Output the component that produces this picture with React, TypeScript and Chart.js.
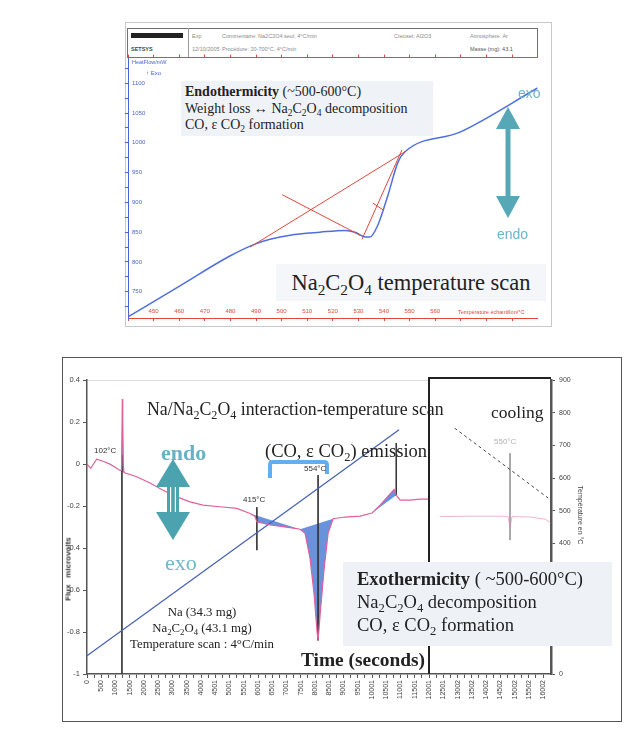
import React, { useEffect, useRef } from "react";
import { Chart, registerables } from "chart.js";

Chart.register(...registerables);

// ================= TOP CHART : Na2C2O4 temperature scan =================
const scanTempC = [440, 460.3, 479.8, 489.6, 495.5, 503.3, 515, 524.8, 528.7, 532.6, 534.5, 537.7, 541.6, 545.5, 548.2, 569.7, 600];
const scanHeatFlow = [708, 760, 810, 830, 838, 845, 850, 853, 850, 842, 842, 863, 913, 968, 985, 1018, 1092];
const tangentBaseT = [487.7, 548.2];
const tangentBaseV = [825, 985];
const tangentDropT = [500.2, 530.6];
const tangentDropV = [913, 845];
const tangentRiseT = [531.4, 547];
const tangentRiseV = [838, 988];
const tangentMarkT = [535.6, 539.8];
const tangentMarkV = [899, 887];
const scanXTicks = [440, 450, 460, 470, 480, 490, 500, 510, 520, 530, 540, 550, 560, 570, 580, 590];
const scanXLabelled = [450, 460, 470, 480, 490, 500, 510, 520, 530, 540, 550, 560];
const scanYTicks = [725, 750, 775, 800, 825, 850, 875, 900, 925, 950, 975, 1000, 1025, 1050, 1075, 1100, 1125];
const scanYLabelled = [750, 800, 850, 900, 950, 1000, 1050, 1100];

// ================= BOTTOM CHART : Na/Na2C2O4 interaction =================
const timeTickValues = [0, 500, 1000, 1500, 2000, 2500, 3000, 3500, 4000, 4501, 5001, 5501, 6001, 6501, 7001, 7501, 8001, 8501, 9001, 9501, 10001, 10501, 11001, 11501, 12001, 12501, 13002, 13502, 14002, 14502, 15002, 15502, 16002];
const fluxTimeS = [0, 130, 340, 562, 807, 1042, 1158, 1211, 1240, 1255, 1275, 1299, 1744, 2211, 2668, 3148, 3615, 4072, 4668, 5255, 5721, 5897, 5957, 6423, 6880, 7476, 7652, 7827, 7968, 8073, 8108, 8178, 8319, 8459, 8635, 9056, 9582, 10004, 10284, 10565, 10776, 10846, 10986, 11337, 11688, 11969];
const fluxMicrovolts = [0, -0.02, 0.024, 0.014, 0, -0.02, -0.03, -0.03, 0.31, 0.2, -0.005, -0.04, -0.06, -0.09, -0.124, -0.156, -0.18, -0.195, -0.203, -0.211, -0.235, -0.25, -0.275, -0.29, -0.298, -0.31, -0.33, -0.45, -0.62, -0.8, -0.84, -0.72, -0.5, -0.33, -0.26, -0.252, -0.248, -0.233, -0.195, -0.152, -0.12, -0.148, -0.171, -0.171, -0.167, -0.167];
const tempTimeS = [0, 10950];
const tempC = [56, 748];
const coolTimeS = [12387, 13440, 14492, 14773, 14843, 14913, 15545, 16071, 16270];
const coolFlux = [-0.25, -0.248, -0.248, -0.25, -0.3, -0.25, -0.252, -0.262, -0.28];
const coolTempTimeS = [12900, 16180];
const coolTempC = [753, 539];
const peakFillFrom = [1150, 5721, 7476, 10004];
const peakFillTo = [1300, 7476, 8635, 10846];
const markerTimeS = [1225, 5960, 8108, 10850];
const markerTop = [0.043, -0.205, -0.052, 0.1];
const markerBottom = [-1, -0.41, -0.84, -0.15];
const coolMarkerTimeS = [14843];
const coolMarkerTop = [0.052];
const coolMarkerBottom = [-0.362];

const SERIF = "'Liberation Serif', 'DejaVu Serif', serif";
const SANS = "'Liberation Sans', Arial, sans-serif";

const pts = (xs: number[], ys: number[]) => xs.map((x, i) => ({ x, y: ys[i] }));

const SUB: React.CSSProperties = { fontSize: "0.68em", verticalAlign: "-0.32em", lineHeight: 0 };
const Oxalate = () => (
  <>
    Na<sub style={SUB}>2</sub>C<sub style={SUB}>2</sub>O<sub style={SUB}>4</sub>
  </>
);
const CO2 = () => (
  <>
    CO<sub style={SUB}>2</sub>
  </>
);

// position helper: page coordinates -> container coordinates (body margin 8)
const at = (x: number, y: number, extra: React.CSSProperties = {}): React.CSSProperties => ({
  position: "absolute",
  left: x - 8,
  top: y - 8,
  whiteSpace: "nowrap",
  ...extra,
});

function TopChart() {
  const ref = useRef<HTMLCanvasElement>(null);
  useEffect(() => {
    const blue = "#4a66d4";
    const red = "#e2473b";
    const redLine = (xs: number[], ys: number[]) => ({
      data: pts(xs, ys),
      borderColor: red,
      borderWidth: 1,
      pointRadius: 0,
      fill: false,
    });
    const chart = new Chart(ref.current as HTMLCanvasElement, {
      type: "line",
      data: {
        datasets: [
          { data: pts(scanTempC, scanHeatFlow), borderColor: "#4f6fdc", borderWidth: 1.5, pointRadius: 0, fill: false, order: 1, cubicInterpolationMode: "monotone" },
          redLine(tangentBaseT, tangentBaseV),
          redLine(tangentDropT, tangentDropV),
          redLine(tangentRiseT, tangentRiseV),
          redLine(tangentMarkT, tangentMarkV),
        ] as any,
      },
      options: {
        animation: false,
        responsive: false,
        events: [],
        plugins: { legend: { display: false }, tooltip: { enabled: false } },
        layout: { padding: { left: 0, right: 12.4, top: 0, bottom: 0 } },
        scales: {
          x: {
            type: "linear",
            position: "bottom",
            min: 440,
            max: 600,
            afterBuildTicks: (s: any) => { s.ticks = scanXTicks.map((v) => ({ value: v })); },
            afterFit: (s: any) => { s.height = 12; },
            ticks: {
              mirror: true,
              padding: 3,
              autoSkip: false,
              maxRotation: 0,
              color: red,
              font: { size: 6, family: SANS },
              callback: (v: any) => (scanXLabelled.includes(Number(v)) ? String(v) : ""),
            },
            grid: { drawOnChartArea: false, color: red, tickLength: 3 },
            border: { color: red, width: 1 },
          },
          xTop: {
            type: "linear",
            position: "top",
            min: 440,
            max: 600,
            afterBuildTicks: (s: any) => { s.ticks = scanXTicks.map((v) => ({ value: v })); },
            afterFit: (s: any) => { s.height = 7; },
            ticks: { display: false },
            grid: { drawOnChartArea: false, color: red, tickLength: 3 },
            border: { color: red, width: 1 },
          },
          y: {
            type: "linear",
            position: "left",
            min: 706,
            max: 1143,
            afterBuildTicks: (s: any) => { s.ticks = scanYTicks.map((v) => ({ value: v })); },
            afterFit: (s: any) => { s.width = 18; },
            ticks: {
              mirror: true,
              padding: 4,
              autoSkip: false,
              color: blue,
              font: { size: 6, family: SANS },
              callback: (v: any) => (scanYLabelled.includes(Number(v)) ? String(v) : ""),
            },
            grid: { drawOnChartArea: false, color: blue, tickLength: 3 },
            border: { color: blue, width: 1 },
          },
        },
      } as any,
    });
    return () => chart.destroy();
  }, []);
  return <canvas ref={ref} width={440} height={280} style={at(110, 50, { width: 440, height: 280 })} />;
}

function BottomChart() {
  const ref = useRef<HTMLCanvasElement>(null);
  useEffect(() => {
    const flux = pts(fluxTimeS, fluxMicrovolts);
    const fills = peakFillFrom.map((a, i) => ({
      data: flux.filter((p) => p.x >= a && p.x <= peakFillTo[i]),
      borderWidth: 0,
      borderColor: "rgba(0,0,0,0)",
      backgroundColor: "rgba(72,122,212,0.82)",
      pointRadius: 0,
      fill: "shape",
      yAxisID: "y",
      order: 9,
    }));
    const markerSets = markerTimeS.map((t, i) => ({
      data: [{ x: t, y: markerTop[i] }, { x: t, y: markerBottom[i] }],
      borderColor: "#333",
      borderWidth: 0.9,
      pointRadius: 0,
      fill: false,
      yAxisID: "y",
      order: 4,
    }));
    const coolMarkers = coolMarkerTimeS.map((t, i) => ({
      data: [{ x: t, y: coolMarkerTop[i] }, { x: t, y: coolMarkerBottom[i] }],
      borderColor: "#9a9a9a",
      borderWidth: 0.9,
      pointRadius: 0,
      fill: false,
      yAxisID: "y",
      order: 4,
    }));
    const tickList: number[] = [];
    timeTickValues.forEach((v, i) => {
      tickList.push(v);
      if (i < timeTickValues.length - 1) tickList.push((v + timeTickValues[i + 1]) / 2);
    });
    const chart = new Chart(ref.current as HTMLCanvasElement, {
      type: "line",
      data: {
        datasets: [
          ...fills,
          { data: flux, borderColor: "#e0609c", borderWidth: 1.2, pointRadius: 0, fill: false, yAxisID: "y", order: 2 },
          { data: pts(tempTimeS, tempC), borderColor: "#4862b4", borderWidth: 1.3, pointRadius: 0, fill: false, yAxisID: "y2", order: 3 },
          { data: pts(coolTimeS, coolFlux), borderColor: "rgba(226,120,165,0.55)", borderWidth: 1, pointRadius: 0, fill: false, yAxisID: "y", order: 3 },
          { data: pts(coolTempTimeS, coolTempC), borderColor: "#444", borderDash: [3, 3], borderWidth: 1, pointRadius: 0, fill: false, yAxisID: "y2", order: 3 },
          ...markerSets,
          ...coolMarkers,
        ] as any,
      },
      options: {
        animation: false,
        responsive: false,
        events: [],
        plugins: { legend: { display: false }, tooltip: { enabled: false } },
        layout: { padding: { left: 0, right: 24, top: 8, bottom: 0 } },
        scales: {
          x: {
            type: "linear",
            position: "bottom",
            min: 0,
            max: 16280,
            afterBuildTicks: (s: any) => { s.ticks = tickList.map((v) => ({ value: v })); },
            afterFit: (s: any) => { s.height = 31; },
            ticks: {
              autoSkip: false,
              minRotation: 90,
              maxRotation: 90,
              padding: 2,
              color: "#444",
              font: { size: 7, family: SANS },
              callback: (v: any) => (timeTickValues.includes(Number(v)) ? String(v) : ""),
            },
            grid: { drawOnChartArea: false, color: "#555", tickLength: 4 },
            border: { color: "#555", width: 1.5 },
          },
          y: {
            type: "linear",
            position: "left",
            min: -1,
            max: 0.4,
            afterFit: (s: any) => { s.width = 32; },
            ticks: {
              stepSize: 0.2,
              padding: 3,
              color: "#444",
              font: { size: 7.5, family: SANS },
              callback: (v: any) => String(Number(Number(v).toFixed(1)) || 0),
            },
            grid: { drawOnChartArea: false, color: "#555", tickLength: 4 },
            border: { color: "#555", width: 1.5 },
          },
          y2: {
            type: "linear",
            position: "right",
            min: 0,
            max: 900,
            afterFit: (s: any) => { s.width = 40; },
            ticks: {
              stepSize: 100,
              padding: 4,
              color: "#444",
              font: { size: 7, family: SANS },
              callback: (v: any) => (Number(v) >= 100 && Number(v) <= 300 ? "" : String(v)),
            },
            grid: { drawOnChartArea: false, color: "#555", tickLength: 4 },
            border: { color: "#555", width: 2.5 },
          },
        },
      } as any,
    });
    return () => chart.destroy();
  }, []);
  return <canvas ref={ref} width={560} height={333} style={at(55, 372, { width: 560, height: 333 })} />;
}

function DoubleArrow({ x, top, bottom, head, headH, shaft, color, stripes }: any) {
  const w = head + 4;
  const h = bottom - top;
  const c = w / 2;
  return (
    <svg width={w} height={h} style={at(x - c, top)}>
      <polygon points={`${c},0 ${c + head / 2},${headH} ${c - head / 2},${headH}`} fill={color} />
      <rect x={c - shaft / 2} y={headH - 1} width={shaft} height={h - 2 * headH + 2} fill={color} />
      <polygon points={`${c},${h} ${c + head / 2},${h - headH} ${c - head / 2},${h - headH}`} fill={color} />
      {stripes
        ? [-shaft / 5, shaft / 5].map((dx, i) => (
            <line key={i} x1={c + dx} x2={c + dx} y1={headH} y2={h - headH} stroke="#ffffff" strokeWidth={1.2} />
          ))
        : null}
    </svg>
  );
}

export default function App() {
  const hdr: React.CSSProperties = { fontFamily: SANS, fontSize: 5.5, color: "#8a8a8a" };
  return (
    <div style={{ position: "relative", width: 618, height: 725, background: "#fff" }}>
      {/* top figure frame */}
      <div style={at(125, 22, { width: 427, height: 305, border: "1px solid #c8c8c8", boxSizing: "border-box" })} />
      <div style={at(127, 28, { width: 411, height: 30, border: "1px solid #707070", boxSizing: "border-box" })} />
      <div style={at(188, 28, { width: 1, height: 30, background: "#9a9a9a" })} />
      <div style={at(131, 33, { width: 52, height: 5, background: "#222" })} />
      <div style={at(131, 46, { ...hdr, color: "#444", fontWeight: 700 })}>SETSYS</div>
      <div style={at(192, 33, hdr)}>Exp</div>
      <div style={at(222, 33, hdr)}>Commentaire: Na2C2O4 seul, 4°C/min</div>
      <div style={at(394, 33, hdr)}>Creuset: Al2O3</div>
      <div style={at(470, 33, hdr)}>Atmosphère: Ar</div>
      <div style={at(192, 46, hdr)}>12/10/2005</div>
      <div style={at(222, 46, hdr)}>Procédure: 20-700°C, 4°C/min</div>
      <div style={at(470, 46, { ...hdr, color: "#555" })}>Masse (mg): 43.1</div>

      <TopChart />

      <div style={at(132, 59, { fontFamily: SANS, fontSize: 5.5, color: "#4a66d4" })}>HeatFlow/mW</div>
      <div style={at(146, 70, { fontFamily: SANS, fontSize: 6, color: "#4a66d4" })}>↑ Exo</div>
      <div style={at(458, 309, { fontFamily: SANS, fontSize: 5.5, color: "#e2473b" })}>Température échantillon/°C</div>

      <div
        style={at(181, 81, {
          width: 252,
          height: 55,
          background: "#eff3f8",
          fontFamily: SERIF,
          fontSize: 14,
          lineHeight: "16.5px",
          color: "#222",
          padding: "3px 4px",
          boxSizing: "border-box",
        })}
      >
        <div>
          <b>Endothermicity</b> (~500-600°C)
        </div>
        <div>
          Weight loss ↔ <Oxalate /> decomposition
        </div>
        <div>
          CO, ε <CO2 /> formation
        </div>
      </div>
      <div
        style={at(276, 264, {
          width: 270,
          height: 37,
          background: "#f4f6f9",
          fontFamily: SERIF,
          fontSize: 22.5,
          lineHeight: "37px",
          textAlign: "center",
          color: "#222",
        })}
      >
        <Oxalate /> temperature scan
      </div>
      <div style={at(518, 85, { fontFamily: SANS, fontSize: 14, color: "#6fb4cc" })}>exo</div>
      <div style={at(497, 226, { fontFamily: SANS, fontSize: 14, color: "#6fb4cc" })}>endo</div>
      <DoubleArrow x={508} top={107} bottom={218} head={24} headH={22} shaft={5} color="#57a8b6" stripes={false} />

      {/* bottom figure */}
      <div style={at(62, 357, { width: 560, height: 365, border: "1px solid #555", boxSizing: "border-box" })} />
      <div style={at(87, 380, { width: 341, height: 1, background: "#dcdcdc" })} />

      <BottomChart />

      <div style={at(428, 377, { width: 123, height: 297, borderLeft: "2.5px solid #222", borderTop: "2.5px solid #222", boxSizing: "border-box" })} />

      <div style={at(147, 398, { fontFamily: SERIF, fontSize: 17.8, lineHeight: "22px", color: "#222" })}>
        Na/<Oxalate /> interaction-temperature scan
      </div>
      <div style={at(491, 401, { fontFamily: SERIF, fontSize: 17.5, lineHeight: "22px", color: "#222" })}>cooling</div>
      <div style={at(265, 440, { fontFamily: SERIF, fontSize: 18.5, lineHeight: "22px", color: "#222" })}>
        (CO, ε <CO2 />) emission
      </div>
      <svg width={64} height={22} style={at(266, 458)}>
        <path d="M4,20 L4,7 Q4,4 7,4 L58,4 Q61,4 61,7 L61,16" fill="none" stroke="#64aef0" strokeWidth={4} />
      </svg>
      <div style={at(304, 464, { fontFamily: SANS, fontSize: 8, color: "#333" })}>554°C</div>
      <div style={at(243, 495, { fontFamily: SANS, fontSize: 8, color: "#333" })}>415°C</div>
      <div style={at(94, 446, { fontFamily: SANS, fontSize: 8, color: "#333" })}>102°C</div>
      <div style={at(494, 437, { fontFamily: SANS, fontSize: 8, color: "#b0b0b0" })}>550°C</div>

      <div style={at(161, 440, { fontFamily: SERIF, fontSize: 22, fontWeight: 700, color: "#66b3c6" })}>endo</div>
      <div style={at(165, 550, { fontFamily: SERIF, fontSize: 22, color: "#6fb7ca" })}>exo</div>
      <DoubleArrow x={173} top={459} bottom={540} head={34} headH={28} shaft={12} color="#4aa3ae" stripes={true} />

      <div
        style={at(112, 604, {
          width: 180,
          textAlign: "center",
          fontFamily: SERIF,
          fontSize: 12.8,
          lineHeight: "16px",
          color: "#222",
        })}
      >
        <div>Na (34.3 mg)</div>
        <div>
          <Oxalate /> (43.1 mg)
        </div>
        <div>Temperature scan : 4°C/min</div>
      </div>
      <div style={at(301, 649, { fontFamily: SERIF, fontSize: 19.4, fontWeight: 700, lineHeight: "22px", color: "#222" })}>
        Time (seconds)
      </div>

      <div
        style={at(343, 562, {
          width: 269,
          height: 84,
          background: "#eef2f7",
          fontFamily: SERIF,
          fontSize: 18.5,
          lineHeight: "23px",
          color: "#222",
          padding: "6px 14px",
          boxSizing: "border-box",
        })}
      >
        <div>
          <b>Exothermicity</b> ( ~500-600°C)
        </div>
        <div>
          <Oxalate /> decomposition
        </div>
        <div>
          CO, ε <CO2 /> formation
        </div>
      </div>

      <div
        style={at(68, 569, {
          fontFamily: SANS,
          fontSize: 8,
          fontWeight: 700,
          color: "#333",
          transform: "translate(-50%, -50%) rotate(-90deg)",
        })}
      >
        Flux&nbsp;&nbsp;&nbsp;microvolts
      </div>
      <div
        style={at(580, 515, {
          fontFamily: SANS,
          fontSize: 7,
          color: "#444",
          transform: "translate(-50%, -50%) rotate(90deg)",
        })}
      >
        Température en °C
      </div>
    </div>
  );
}
